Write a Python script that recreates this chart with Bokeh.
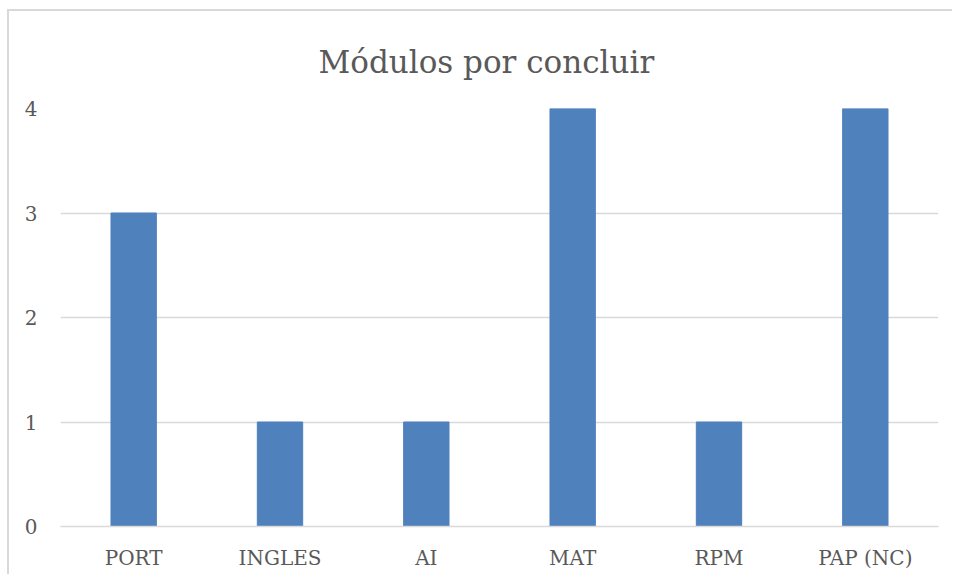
from bokeh.plotting import figure
from bokeh.models import ColumnDataSource
from bokeh.embed import file_html
from bokeh.resources import INLINE

categories = ["PORT", "INGLES", "AI", "MAT", "RPM", "PAP (NC)"]
values = [3, 1, 1, 4, 1, 4]
y_ticks = [0, 1, 2, 3, 4]

FONT = "DejaVu Serif"
TXT = "#595959"
GRID = "#D9D9D9"

src = ColumnDataSource(data=dict(cat=categories, val=values))

p = figure(x_range=categories, y_range=(0, 4), width=945, height=565,
           output_backend="svg", toolbar_location=None,
           title="Módulos por concluir")
p.min_border_left = 51
p.min_border_right = 16
p.min_border_top = 97
p.min_border_bottom = 50
p.outline_line_color = None
p.styles = {"border-top": "2px solid #D9D9D9", "border-left": "2px solid #D9D9D9",
            "margin-left": "7px", "margin-top": "9px"}

p.vbar(x="cat", top="val", width=0.31, source=src, fill_color="#4F81BD",
       line_color="#4F81BD")

p.title.text_font = FONT
p.title.text_font_size = "31px"
p.title.text_font_style = "normal"
p.title.text_color = TXT
p.title.align = "left"
p.title.offset = 258
p.title.standoff = 57

p.xgrid.grid_line_color = None
p.ygrid.grid_line_color = GRID
p.ygrid.grid_line_width = 1.5
p.yaxis.ticker = y_ticks

for ax in (p.xaxis, p.yaxis):
    ax.major_tick_line_color = None
    ax.minor_tick_line_color = None
    ax.major_label_text_font = FONT
    ax.major_label_text_font_size = "20px"
    ax.major_label_text_color = TXT
p.yaxis.axis_line_color = None
p.yaxis.major_label_standoff = 17
p.xaxis.axis_line_color = GRID
p.xaxis.axis_line_width = 1.5
p.xaxis.major_label_standoff = 13

open("out.html", "w").write(file_html(p, INLINE))
